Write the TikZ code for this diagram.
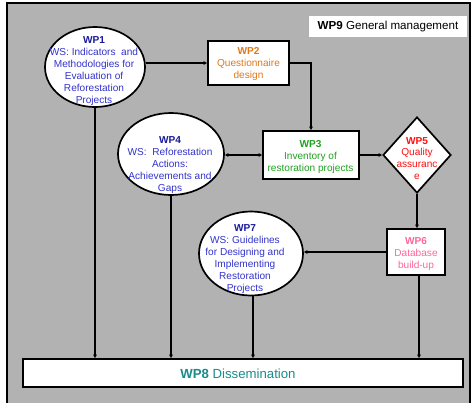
\documentclass[tikz,border=0pt]{standalone}
\usepackage{fontspec}
\setmainfont{Liberation Sans}
\usetikzlibrary{shapes.geometric,arrows.meta}
\definecolor{bg}{HTML}{B2B2B2}
\definecolor{navy}{HTML}{1A1A9C}
\definecolor{wsblue}{HTML}{3333CC}
\definecolor{wporange}{HTML}{E07818}
\definecolor{wpgreen}{HTML}{22A022}
\definecolor{wpred}{HTML}{FF1010}
\definecolor{wppink}{HTML}{FF6699}
\definecolor{wpteal}{HTML}{1A8C8C}
\begin{document}
\begin{tikzpicture}[x=1pt,y=-1pt,
  shapeline/.style={draw=black,line width=1.7pt,fill=white,inner sep=0pt},
  ell/.style={shapeline,ellipse},
  boxn/.style={shapeline,rectangle},
  txt/.style={align=center,font=\fontsize{10.1}{11.9}\selectfont,inner sep=0pt},
  conn/.style={line width=1.8pt,-{Triangle[length=3.5pt,width=3.5pt]}},
  conn2/.style={line width=1.8pt,{Triangle[length=3.5pt,width=3.5pt]}-{Triangle[length=3.5pt,width=3.5pt]}}
]
\useasboundingbox (0,0) rectangle (471,402);
\fill[white] (0,0) rectangle (471,402);
\begin{scope}
\clip (0,0) rectangle (471,402);
\draw[line width=1.8pt,fill=bg] (7,3) rectangle (470,410);
\end{scope}
% WP9
\node[fill=white,inner sep=0pt,minimum width=158pt,minimum height=21pt,font=\fontsize{11.6}{14}\selectfont] (wp9) at (388,26.5) {\textbf{WP9} General management};
% shapes
\node[ell,minimum width=100pt,minimum height=80pt] (wp1) at (95,67) {};
\node[boxn,minimum width=81pt,minimum height=44pt] (wp2) at (248.5,63) {};
\node[boxn,minimum width=96pt,minimum height=48pt] (wp3) at (311,155) {};
\node[ell,minimum width=106pt,minimum height=82pt] (wp4) at (171,154) {};
\node[shapeline,diamond,minimum width=68pt,minimum height=76pt] (wp5) at (417,155) {};
\node[boxn,minimum width=58pt,minimum height=46pt] (wp6) at (416,252) {};
\node[ell,minimum width=104pt,minimum height=84pt] (wp7) at (251,253.5) {};
\node[boxn,minimum width=440pt,minimum height=28pt] (wp8) at (243,373) {};
% texts
\node[txt,text=wsblue] (t1) at (94,71) {\textcolor{navy}{\textbf{WP1}}\\WS: Indicators\ \ and\\Methodologies for\\Evaluation of\\Reforestation\\Projects};
\node[txt,text=wporange] (t2) at (248.5,64) {\textbf{WP2}\\Questionnaire\\design};
\node[txt,text=wpgreen] (t3) at (310.5,157) {\textbf{WP3}\\Inventory of\\restoration projects};
\node[txt,text=wsblue] (t4) at (170,165) {\textcolor{navy}{\textbf{WP4}}\\WS:\ \ Reforestation\\Actions:\\Achievements and\\Gaps};
\node[txt,text=wpred] (t5) at (417,158.5) {\textbf{WP5}\\Quality\\assuranc\\e};
\node[txt,text=wppink] (t6) at (416,254) {\textbf{WP6}\\Database\\build-up};
\node[txt,text=wsblue] (t7) at (245,259) {\textcolor{navy}{\textbf{WP7}}\\WS: Guidelines\\for Designing and\\Implementing\\Restoration\\Projects};
\node[inner sep=0pt,text=wpteal,font=\fontsize{13.2}{15}\selectfont] (t8) at (238,374) {\textbf{WP8} Dissemination};
% connectors
\draw[conn] (wp2.west -| wp1.east) -- (wp2.west);
\draw[conn] (wp2.east) -| (wp3.north);
\draw[conn2] (wp3.west -| wp4.east) -- (wp3.west);
\draw[conn] (wp3.east) -- (wp5.west);
\draw[conn] (wp5.south) -- (wp5.south |- wp6.north);
\draw[conn] (wp6.west) -- (wp6.west -| wp7.east);
\draw[conn] (wp1.south) -- (wp1.south |- wp8.north);
\draw[conn] (wp4.south) -- (wp4.south |- wp8.north);
\draw[conn] ([xshift=2pt]wp7.south) -- ([xshift=2pt]wp7.south |- wp8.north);
\draw[conn] ([xshift=3pt]wp6.south) -- ([xshift=3pt]wp6.south |- wp8.north);
\end{tikzpicture}
\end{document}
